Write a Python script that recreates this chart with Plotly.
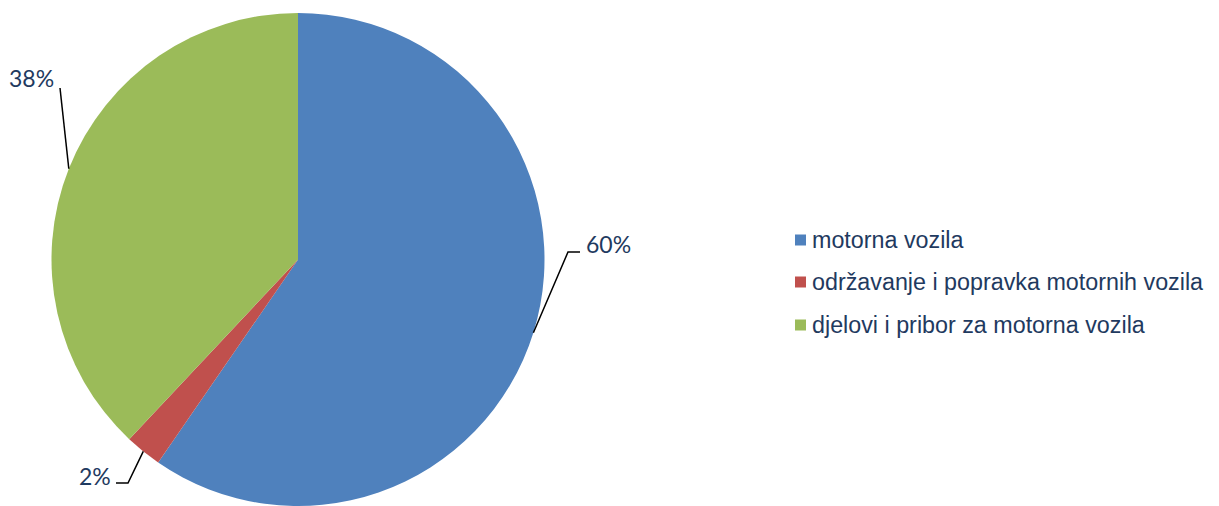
import math
import plotly.graph_objects as go

categories = ["motorna vozila", "održavanje i popravka motornih vozila", "djelovi i pribor za motorna vozila"]
values = [59.6, 2.4, 38.0]
colors = ["#4F81BD", "#C0504D", "#9BBB59"]
pct_labels = [f"{round(v / sum(values) * 100)}%" for v in values]

# page has an 8px body margin; work in reference (screen) pixels and convert
OFF = 8
FW, FH = 1219 - OFF, 506 - OFF
MT = 13 - OFF
PH = FH - MT

def px_x(x):
    return (x - OFF) / FW

def px_y(y):
    return (FH - (y - OFF)) / PH

pie_left, pie_right = 51.5, 544.5
dom_x = [px_x(pie_left), px_x(pie_right)]

fig = go.Figure(go.Pie(
    labels=categories, values=values, sort=False, direction="clockwise", rotation=0,
    marker=dict(colors=colors, line=dict(width=0)), textinfo="none", hoverinfo="label+percent",
    showlegend=False, domain=dict(x=dom_x, y=[0, 1]),
))

# pie geometry in screen pixels
cx = (pie_left + pie_right) / 2
R = min(pie_right - pie_left, PH) / 2
cy = 13 + PH / 2

# label layout per slice: (elbow point, end point, text anchor x, text y, xanchor)
label_layout = [
    ((568, 252), (580, 252), 584, 244, "left"),
    ((128, 483), (116, 483), 113, 476, "right"),
    ((60, 88), (60, 88), 56, 78, "right"),
]

text_color = "#1F3A60"
shapes, annotations = [], []
total = sum(values)
cum = 0
for v, pl, (elbow, end, tx, ty, xa) in zip(values, pct_labels, label_layout):
    mid = (cum + v / 2) / total * 2 * math.pi
    cum += v
    ex = cx + R * math.sin(mid)
    ey = cy - R * math.cos(mid)
    path = f"M {px_x(ex)},{px_y(ey)} L {px_x(elbow[0])},{px_y(elbow[1])} L {px_x(end[0])},{px_y(end[1])}"
    shapes.append(dict(type="path", path=path, xref="paper", yref="paper",
                       line=dict(color="black", width=1.5)))
    annotations.append(dict(text=pl, x=px_x(tx), y=px_y(ty), xref="paper", yref="paper",
                            xanchor=xa, yanchor="middle", showarrow=False,
                            font=dict(family="Lato, Open Sans, sans-serif", size=23, color=text_color)))

# legend
leg_y = [240, 282, 325]
for cat, col, ly in zip(categories, colors, leg_y):
    shapes.append(dict(type="rect", xref="paper", yref="paper",
                       x0=px_x(795), x1=px_x(806), y0=px_y(ly + 5.5), y1=px_y(ly - 5.5),
                       fillcolor=col, line=dict(width=0)))
    annotations.append(dict(text=cat, x=px_x(810), y=px_y(ly), xref="paper", yref="paper",
                            xanchor="left", yanchor="middle", showarrow=False,
                            font=dict(family="Liberation Sans, Arial, sans-serif", size=23.3, color=text_color)))

fig.update_layout(
    width=FW, height=FH, margin=dict(l=0, r=0, t=MT, b=0),
    paper_bgcolor="white", plot_bgcolor="white",
    shapes=shapes, annotations=annotations,
)
fig.write_html("out.html")
